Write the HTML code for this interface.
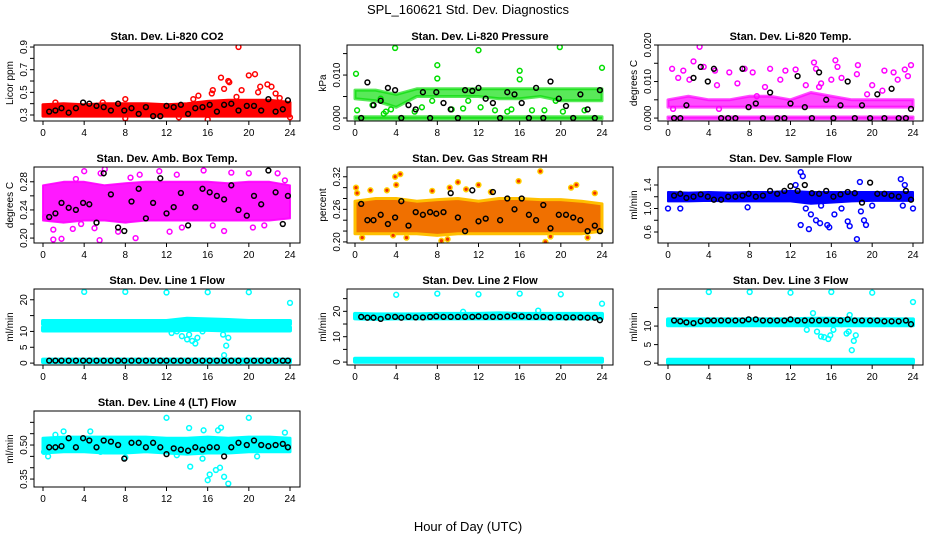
<!DOCTYPE html>
<html><head><meta charset="utf-8"><style>
html,body{margin:0;padding:0;background:#fff;}
svg{display:block;font-family:"Liberation Sans",Arial,sans-serif;}
</style></head><body>
<svg id="chart" width="936" height="540" viewBox="0 0 936 540" xmlns="http://www.w3.org/2000/svg">
<text x="468" y="14" font-size="13" text-anchor="middle">SPL_160621  Std. Dev. Diagnostics</text>
<text x="468" y="531" font-size="13" text-anchor="middle">Hour of Day (UTC)</text>
</svg>
<script>
const bandHours = [0,2,4,6,8,10,12,14,16,18,20,22,24];
const blackHours = [0.6,1.2,1.8,2.5,3.2,3.9,4.5,5.2,5.9,6.6,7.3,7.9,8.6,9.3,10.0,10.7,11.4,12.0,12.7,13.4,14.1,14.8,15.5,16.2,16.9,17.6,18.3,19.0,19.8,20.5,21.2,21.9,22.6,23.3,23.8];
const xTickValues = [0,4,8,12,16,20,24];

const titles = ["Stan. Dev. Li-820 CO2","Stan. Dev. Li-820 Pressure","Stan. Dev. Li-820 Temp.","Stan. Dev. Amb. Box Temp.","Stan. Dev. Gas Stream RH","Stan. Dev. Sample Flow","Stan. Dev. Line 1 Flow","Stan. Dev. Line 2 Flow","Stan. Dev. Line 3 Flow","Stan. Dev. Line 4 (LT) Flow"];
const yLabels = ["Licor ppm","kPa","degrees C","degrees C","percent","ml/min","ml/min","ml/min","ml/min","ml/min"];

const co2Ticks=[0.3,0.4,0.5,0.6,0.7,0.8,0.9], co2TickLabels=["0.3","","0.5","","0.7","","0.9"];
const co2BandLo=[0.29,0.29,0.29,0.29,0.29,0.29,0.29,0.29,0.29,0.29,0.29,0.29,0.29];
const co2BandHi=[0.39,0.40,0.39,0.40,0.40,0.40,0.39,0.40,0.42,0.43,0.43,0.43,0.41];
const co2Pts=[19,0.9,17.3,0.63,18,0.6,18.1,0.59,20,0.65,20.6,0.66,21.1,0.55,21.8,0.57,22.2,0.55,16.5,0.52,16.4,0.49,17.6,0.53,19.3,0.52,15.1,0.47,8,0.44,16,0.26,8,0.27,24,0.28,22.6,0.49,23,0.45,14.6,0.44,20.9,0.5,18.8,0.46,5.8,0.41,1.2,0.41,13.2,0.28];
const co2Black=[0.33,0.34,0.36,0.32,0.36,0.41,0.40,0.38,0.37,0.34,0.40,0.34,0.36,0.31,0.37,0.29,0.29,0.38,0.37,0.39,0.31,0.36,0.37,0.39,0.33,0.39,0.40,0.34,0.38,0.38,0.34,0.44,0.33,0.35,0.43];

const presTicks=[0,0.005,0.010,0.015], presTickLabels=["0.000","","0.010",""];
const presBandLo=[-0.0002,-0.0002,-0.0002,-0.0002,-0.0002,-0.0002,-0.0002,-0.0002,-0.0002,-0.0002,-0.0002,-0.0002,-0.0002];
const presBandHi=[0.0003,0.0003,0.0003,0.0003,0.0003,0.0003,0.0003,0.0003,0.0003,0.0003,0.0003,0.0003,0.0003];
const presBand2Lo=[0.0045,0.004,0.0025,0.005,0.005,0.005,0.005,0.0045,0.0045,0.005,0.004,0.004,0.004];
const presBand2Hi=[0.0065,0.0065,0.0055,0.0068,0.0068,0.0068,0.0068,0.0068,0.0068,0.0068,0.0068,0.0068,0.0068];
const presPts=[0.1,0.0103,3.9,0.0163,12,0.0158,19.9,0.0165,24,0.0117,8,0.0123,8,0.0092,16,0.0110,16,0.0090,0.2,0.0018,1.7,0.003,2.5,0.0045,5.8,0.0015,6.5,0.0025,9.4,0.002,10.5,0.0022,12.2,0.0025,13.6,0.0018,14.8,0.0015,17.2,0.0018,18.4,0.0018,20.2,0.0015,22.3,0.0018,7.5,0.004,11,0.004,15.2,0.002,19.5,0.004,3,0.0015,3.5,0.002,2.8,0.001];
const presBlack=[0,0.0083,0.003,0.004,0.007,0.0065,0,0.003,0.002,0.006,0,0.006,0.0035,0.002,0,0.0065,0.0063,0.007,0.0045,0.0035,0,0.006,0.0055,0.0035,0,0.007,0,0.0085,0.0045,0.0028,0,0.0055,0.002,0,0.0065];

const tempTicks=[0,0.005,0.010,0.015,0.020], tempTickLabels=["0.000","","0.010","","0.020"];
const tempBandLo=[-0.0002,-0.0002,-0.0002,-0.0002,-0.0002,-0.0002,-0.0002,-0.0002,-0.0002,-0.0002,-0.0002,-0.0002,-0.0002];
const tempBandHi=[0.0003,0.0003,0.0003,0.0003,0.0003,0.0003,0.0003,0.0003,0.0003,0.0003,0.0003,0.0003,0.0003];
const tempBand2Lo=[0.003,0.003,0.003,0.003,0.003,0.003,0.003,0.003,0.003,0.003,0.003,0.003,0.003];
const tempBand2Hi=[0.005,0.006,0.005,0.005,0.006,0.006,0.005,0.007,0.006,0.005,0.005,0.005,0.005];
const tempPts=[3.1,0.0195,2.5,0.0155,0.4,0.0135,1.5,0.013,3.5,0.014,4.6,0.013,6,0.0125,7.5,0.0135,8.3,0.0125,10,0.0135,11.5,0.013,12.5,0.0133,14.3,0.0152,14.5,0.0135,16.4,0.0158,16.6,0.014,18.6,0.0145,18.5,0.012,21.2,0.013,22.1,0.0125,23.2,0.0133,23.8,0.0145,1,0.011,2.1,0.0105,4.8,0.009,6.8,0.0095,9.5,0.0085,11,0.0105,13.5,0.009,15,0.0095,16,0.0105,17,0.011,20,0.009,22.5,0.0105,23.5,0.0115,0.5,0.0025,5,0.0025,8.7,0.006,14.8,0.0085,19.5,0.0065,21,0.0075];
const tempBlack=[0,0,0.0035,0.011,0.014,0.010,0.0135,0,0,0,0.0135,0.003,0.004,0,0.007,0,0,0.004,0.0115,0.003,0,0.0125,0.005,0,0.0035,0.010,0,0.0035,0,0.0065,0,0.008,0,0,0.0025];

const ambTicks=[0.20,0.22,0.24,0.26,0.28], ambTickLabels=["0.20","","0.24","","0.28"];
const ambBandLo=[0.225,0.222,0.225,0.225,0.222,0.225,0.225,0.225,0.225,0.225,0.225,0.225,0.228];
const ambBandHi=[0.275,0.28,0.28,0.275,0.278,0.28,0.28,0.28,0.28,0.278,0.28,0.28,0.275];
const ambPts=[1,0.198,1.8,0.199,5.5,0.197,9,0.2,2.9,0.213,1,0.212,5,0.214,7.3,0.209,12.3,0.209,17.6,0.21,3.7,0.22,0.2,0.23,6,0.298,5.6,0.292,11.3,0.295,13,0.29,15.6,0.296,18.3,0.293,22.8,0.292,4,0.295,9.4,0.29,20,0.292,20.4,0.215,13.5,0.215,16.5,0.218,21.5,0.218,23.5,0.282,3.2,0.284,8.5,0.286];
const ambBlack=[0.23,0.235,0.25,0.243,0.24,0.25,0.248,0.222,0.292,0.262,0.215,0.21,0.252,0.27,0.228,0.25,0.285,0.235,0.244,0.264,0.218,0.244,0.27,0.265,0.26,0.255,0.275,0.24,0.232,0.26,0.248,0.296,0.265,0.22,0.26];

const rhTicks=[0.20,0.22,0.24,0.26,0.28,0.30,0.32], rhTickLabels=["0.20","","","0.26","","","0.32"];
const rhBandLo=[0.215,0.215,0.215,0.215,0.212,0.215,0.215,0.215,0.215,0.215,0.215,0.215,0.22];
const rhBandHi=[0.275,0.28,0.28,0.275,0.278,0.28,0.275,0.28,0.28,0.278,0.278,0.275,0.27];
const rhPts=[0.1,0.3,0.2,0.29,3.9,0.32,4.4,0.325,4,0.305,3.1,0.295,9.2,0.3,10,0.31,12,0.305,15.9,0.312,18,0.33,21,0.3,21.5,0.305,23.3,0.29,1.5,0.295,7.5,0.294,10.8,0.297,0.7,0.208,3.7,0.212,5,0.208,8.4,0.202,9,0.205,18.5,0.2,19,0.21,22.6,0.208,13.2,0.292];
const rhBlack=[0.27,0.24,0.24,0.25,0.233,0.245,0.275,0.23,0.255,0.25,0.255,0.252,0.255,0.29,0.245,0.22,0.295,0.238,0.243,0.292,0.24,0.28,0.26,0.28,0.25,0.24,0.268,0.225,0.25,0.25,0.245,0.24,0.22,0.23,0.22];

const sfTicks=[0.6,0.8,1.0,1.2,1.4], sfTickLabels=["0.6","","1.0","","1.4"];
const sfBandLo=[1.12,1.12,1.13,1.12,1.12,1.12,1.12,1.08,1.1,1.12,1.13,1.13,1.13];
const sfBandHi=[1.28,1.27,1.28,1.27,1.28,1.28,1.3,1.28,1.28,1.28,1.28,1.28,1.28];
const sfPts=[13,1.62,13.2,1.55,0,1.0,24,1.0,13.5,1.0,14,0.9,14.5,0.8,14.9,0.75,15.6,0.72,15.8,0.68,13,0.72,13.8,0.65,16.3,0.9,17.6,0.78,17.8,0.7,18.5,0.48,18.9,0.95,19.2,0.8,19.4,0.72,18.8,1.45,22.8,1.5,23.2,1.4,23,1.05,12.5,1.4,15,1.05,17,1.0,20,1.05,1.2,1.0,7.8,1.02];
const sfBlack=[1.22,1.25,1.18,1.2,1.24,1.2,1.15,1.15,1.2,1.2,1.22,1.25,1.2,1.22,1.3,1.25,1.3,1.38,1.3,1.4,1.26,1.25,1.3,1.2,1.24,1.28,1.26,1.1,1.44,1.25,1.25,1.22,1.2,1.3,1.15];

const l1Ticks=[0,5,10,15,20], l1TickLabels=["0","5","10","","20"];
const l1BandLo=[0.3,0.3,0.3,0.3,0.3,0.3,0.3,0.3,0.3,0.3,0.3,0.3,0.3];
const l1BandHi=[1.1,1.1,1.1,1.1,1.1,1.1,1.1,1.1,1.1,1.1,1.1,1.1,1.1];
const l1Band2Lo=[10.3,10.3,10.3,10.3,10.3,10.3,10.3,10.5,10.5,10.3,10.3,10.3,10.3];
const l1Band2Hi=[11.3,11.3,11.3,11.3,11.3,11.3,11.3,11.6,11.6,11.3,11.3,11.3,11.3];
const l1Band3Lo=[12.3,12.3,12.3,12.3,12.3,12.3,12.3,12.5,12.5,12.3,12.3,12.3,12.3];
const l1Band3Hi=[13.3,13.3,13.3,13.3,13.3,13.3,13.3,14,13.8,13.6,13.3,13.3,13.3];
const l1Pts=[4,22.5,8,22.5,12,22.3,16,22.4,20,22.4,24,19,13.5,8.5,14,7.5,14.5,7,14.8,6.2,15,8,15.5,10,12.5,9.5,17.5,9,17.8,5.5,18,8,17.6,2.5,19,0,13,10,14.2,9,18.4,12];
const l1Black=[0.8,0.8,0.8,0.8,0.8,0.8,0.8,0.8,0.8,0.8,0.8,0.8,0.8,0.8,0.8,0.8,0.8,0.8,0.8,0.8,0.8,0.8,0.8,0.8,0.8,0.8,0.8,0.8,0.8,0.8,0.8,0.8,0.8,0.8,0.8];

const l2Ticks=[0,5,10,15,20,25], l2TickLabels=["0","","10","","20",""];
const l2BandLo=[0.1,0.1,0.1,0.1,0.1,0.1,0.1,0.1,0.1,0.1,0.1,0.1,0.1];
const l2BandHi=[1.3,1.3,1.3,1.3,1.3,1.3,1.3,1.3,1.3,1.3,1.3,1.3,1.3];
const l2Band2Lo=[17.2,17,17.2,17.2,17.2,17.2,17.2,17.2,17.2,17.2,17.2,17.2,17.2];
const l2Band2Hi=[19,18.8,18.8,18.8,19,19,19,19.2,19,19,19,19,19];
const l2Pts=[4,26.5,8,27,12,26.7,16,27,20,26.7,24,23,10.5,19.8,17.8,20.3];
const l2Black=[17.8,17.5,17.5,17,17.8,17.8,17.5,17.8,17.6,17.6,17.8,18,17.8,17.8,17.8,17.8,17.8,18,17.8,17.8,17.8,18,18.2,18,17.8,17.8,17.8,17.6,17.8,17.6,17.6,17.6,17.5,17.5,16.5];

const l3Ticks=[0,5,10,15], l3TickLabels=["0","5","10",""];
const l3BandLo=[0.1,0.1,0.1,0.1,0.1,0.1,0.1,0.1,0.1,0.1,0.1,0.1,0.1];
const l3BandHi=[0.9,0.9,0.9,0.9,0.9,0.9,0.9,0.9,0.9,0.9,0.9,0.9,0.9];
const l3Band2Lo=[10.2,10.2,10.2,10.2,10.2,10.2,10.2,10.2,10.2,10.2,10.2,10.2,10.2];
const l3Band2Hi=[11.8,11.8,11.8,11.8,11.8,11.8,11.8,12,12,11.8,11.8,11.8,11.8];
const l3Pts=[4,19.2,8,19.2,12,19,16,19.2,20,19,24,16.5,14.2,13.5,14.6,8.5,15,7.2,15.3,7,15.7,6.5,15.9,7.5,16.2,9,13.6,9,17.5,8,17.7,8.5,18,3.5,18.2,6,18.4,7.5,17.8,13,17,10.5];
const l3Black=[11.5,11.3,11,10.8,11.3,11.5,11.5,11.5,11.5,11.5,11.5,11.8,11.8,11.5,11.5,11.5,11.5,11.8,11.5,11.5,11.5,11.5,11.5,11.5,11.5,11.8,11.5,11.5,11.5,11.5,11.3,11.3,11.3,11.5,10.5];

const l4Ticks=[0.35,0.40,0.45,0.50,0.55,0.60], l4TickLabels=["0.35","","","0.50","",""];
const l4BandLo=[0.465,0.47,0.47,0.465,0.465,0.47,0.465,0.46,0.465,0.465,0.47,0.47,0.47];
const l4BandHi=[0.53,0.535,0.535,0.535,0.535,0.535,0.53,0.53,0.535,0.53,0.535,0.535,0.53];
const l4Pts=[12,0.62,20,0.62,15.6,0.565,17.3,0.577,17,0.565,14.2,0.575,0.1,0.47,0.5,0.45,5.6,0.47,16.2,0.37,16.8,0.39,17.2,0.4,17.6,0.36,18,0.33,16,0.345,14.3,0.405,13,0.455,15.5,0.44,20.8,0.45,8,0.445,23.5,0.555,2,0.56,4.6,0.56,1.2,0.545];
const l4Black=[0.49,0.49,0.495,0.53,0.49,0.53,0.52,0.49,0.52,0.515,0.50,0.44,0.51,0.51,0.49,0.51,0.49,0.46,0.485,0.48,0.475,0.49,0.48,0.49,0.49,0.45,0.49,0.51,0.50,0.52,0.50,0.495,0.50,0.505,0.49];

const colColors=["#ff0000","#00dd00","#ff00ff","#ff00ff","#ff9900","#0000ff","#00ffff","#00ffff","#00ffff","#00ffff"];
const bandOpacity=[1,0.65,0.7,0.9,1,1,1,1,1,1];
const bandStroke=[3,3,3,2,3,2,4,4,4,3];
const panels=[
 {c:0,r:0,ylo:0.247,yhi:0.918,ticks:co2Ticks,tl:co2TickLabels,bands:[[co2BandLo,co2BandHi]],pts:co2Pts,blk:co2Black},
 {c:1,r:0,ylo:-0.0007,yhi:0.017,ticks:presTicks,tl:presTickLabels,bands:[[presBandLo,presBandHi],[presBand2Lo,presBand2Hi]],pts:presPts,blk:presBlack},
 {c:2,r:0,ylo:-0.0008,yhi:0.020,ticks:tempTicks,tl:tempTickLabels,bands:[[tempBandLo,tempBandHi],[tempBand2Lo,tempBand2Hi]],pts:tempPts,blk:tempBlack},
 {c:0,r:1,ylo:0.193,yhi:0.301,ticks:ambTicks,tl:ambTickLabels,bands:[[ambBandLo,ambBandHi]],pts:ambPts,blk:ambBlack},
 {c:1,r:1,ylo:0.198,yhi:0.338,ticks:rhTicks,tl:rhTickLabels,bands:[[rhBandLo,rhBandHi]],pts:rhPts,blk:rhBlack},
 {c:2,r:1,ylo:0.413,yhi:1.706,ticks:sfTicks,tl:sfTickLabels,bands:[[sfBandLo,sfBandHi]],pts:sfPts,blk:sfBlack},
 {c:0,r:2,ylo:-0.6,yhi:23.4,ticks:l1Ticks,tl:l1TickLabels,bands:[[l1BandLo,l1BandHi],[l1Band2Lo,l1Band2Hi],[l1Band3Lo,l1Band3Hi]],pts:l1Pts,blk:l1Black},
 {c:1,r:2,ylo:-1.15,yhi:28.8,ticks:l2Ticks,tl:l2TickLabels,bands:[[l2BandLo,l2BandHi],[l2Band2Lo,l2Band2Hi]],pts:l2Pts,blk:l2Black},
 {c:2,r:2,ylo:-0.5,yhi:20,ticks:l3Ticks,tl:l3TickLabels,bands:[[l3BandLo,l3BandHi],[l3Band2Lo,l3Band2Hi]],pts:l3Pts,blk:l3Black},
 {c:0,r:3,ylo:0.315,yhi:0.65,ticks:l4Ticks,tl:l4TickLabels,bands:[[l4BandLo,l4BandHi]],pts:l4Pts,blk:l4Black}
];
const cols=[{l:34,r:300,x0:43,x24:290},{l:347,r:613,x0:355,x24:602},{l:658,r:923,x0:668,x24:913}];
const rowTops=[45,167,289,411], H=76;
const NS="http://www.w3.org/2000/svg";
const svg=document.getElementById('chart');
function mk(tag,attrs,parent){const e=document.createElementNS(NS,tag);for(const k in attrs)e.setAttribute(k,attrs[k]);parent.appendChild(e);return e;}

panels.forEach((p,i)=>{
  const col=cols[p.c], top=rowTops[p.r], bot=top+H;
  const xs=v=>col.x0+(v/24)*(col.x24-col.x0);
  const ys=v=>bot-(v-p.ylo)/(p.yhi-p.ylo)*H;
  const color=colColors[i];
  const g=mk('g',{},svg);
  
  
  const clipId='clip'+i;
  const cp=mk('clipPath',{id:clipId},g);
  mk('rect',{x:col.l,y:top,width:col.r-col.l,height:H},cp);
  const pg=mk('g',{'clip-path':'url(#'+clipId+')'},g);
  p.bands.forEach((b)=>{
    let d='';
    bandHours.forEach((h,k)=>{d+=(k?'L':'M')+xs(h).toFixed(1)+','+ys(b[1][k]).toFixed(1);});
    for(let k=bandHours.length-1;k>=0;k--)d+='L'+xs(bandHours[k]).toFixed(1)+','+ys(b[0][k]).toFixed(1);
    const path=mk('path',{d:d+'Z',fill:i===4?'#f07000':color,'fill-opacity':bandOpacity[i],stroke:i===4?'#ffc000':color,'stroke-width':bandStroke[i],'stroke-linejoin':'round','stroke-opacity':bandOpacity[i]},pg);
    
    
  });
  for(let k=0;k<p.pts.length;k+=2){
    const c=mk('circle',{cx:xs(p.pts[k]).toFixed(1),cy:ys(p.pts[k+1]).toFixed(1),r:2.4,fill:i===4?'#f03000':'none',stroke:i===4?'#ffd000':color,'stroke-width':1.5},pg);
    
    
  }
  p.blk.forEach((v,k)=>{
    const c=mk('circle',{cx:xs(blackHours[k]).toFixed(1),cy:ys(v).toFixed(1),r:2.4,fill:'none',stroke:'#000','stroke-width':1.5},pg);
    
    
  });
  const box=mk('rect',{x:col.l,y:top,width:col.r-col.l,height:H,fill:'none',stroke:'#000','stroke-width':1},g);
  
  
  const t=mk('text',{x:(col.l+col.r)/2,y:top-5,'font-size':11,'font-weight':'bold','text-anchor':'middle'},g);
  t.textContent=titles[i];
  
  
  xTickValues.forEach(v=>{
    mk('line',{x1:xs(v),x2:xs(v),y1:bot,y2:bot+4,stroke:'#000'},g);
    const tx=mk('text',{x:xs(v),y:bot+15,'font-size':10,'text-anchor':'middle'},g);
    tx.textContent=String(v);
    
    
  });
  p.ticks.forEach((v,k)=>{
    const y=ys(v);
    mk('line',{x1:col.l-4,x2:col.l,y1:y,y2:y,stroke:'#000'},g);
    if(p.tl[k]){
      const tx=mk('text',{x:0,y:0,'font-size':10,'text-anchor':'middle',transform:'translate('+(col.l-7)+','+y.toFixed(1)+') rotate(-90)'},g);
      tx.textContent=p.tl[k];
      
      
    }
  });
  const yl=mk('text',{x:0,y:0,'font-size':10,'text-anchor':'middle',transform:'translate('+(col.l-21)+','+(top+H/2)+') rotate(-90)'},g);
  yl.textContent=yLabels[i];
  
  
});
</script>
</body></html>
